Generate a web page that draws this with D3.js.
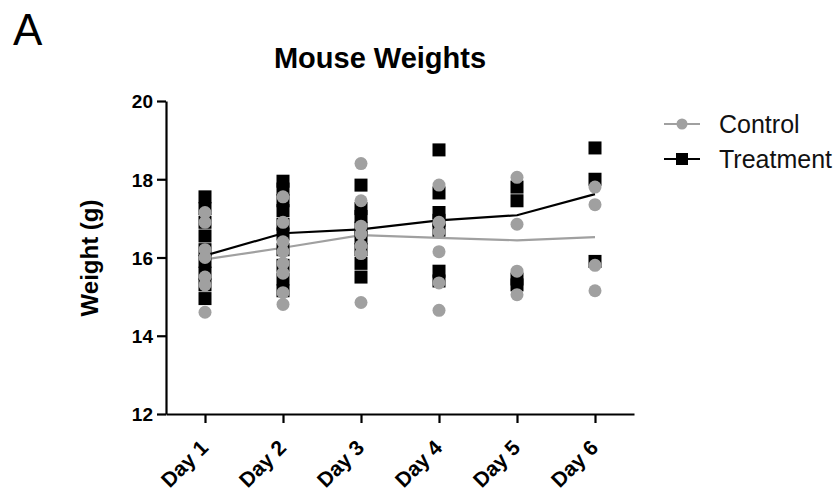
<!DOCTYPE html>
<html>
<head>
<meta charset="utf-8">
<script src="https://cdn.jsdelivr.net/npm/d3@7"></script>
<style>
  html, body { margin: 0; padding: 0; background: #fff; }
  svg { display: block; font-family: "Liberation Sans", Arial, sans-serif; }
</style>
</head>
<body>
<svg id="chart" width="837" height="494"></svg>
<script>
// Days on the x axis
const days = ["Day 1", "Day 2", "Day 3", "Day 4", "Day 5", "Day 6"];

// Individual mouse weights (g), one list per day
const controlWeights = [
  [17.15, 16.9, 16.2, 16.0, 15.5, 15.3, 14.6],
  [17.55, 16.9, 16.4, 16.15, 15.85, 15.6, 15.1, 14.8],
  [18.4, 17.45, 16.8, 16.6, 16.3, 16.1, 14.85],
  [17.85, 16.9, 16.65, 16.15, 15.35, 14.65],
  [18.05, 16.85, 15.65, 15.05],
  [17.8, 17.35, 15.8, 15.15]
];
const treatmentWeights = [
  [17.55, 17.25, 16.9, 16.55, 16.2, 15.9, 15.6, 15.3, 14.95],
  [17.95, 17.75, 17.45, 17.2, 16.85, 16.6, 16.2, 15.8, 15.45, 15.15],
  [17.85, 17.25, 17.05, 16.75, 16.5, 16.2, 15.85, 15.5],
  [18.75, 17.65, 17.15, 16.95, 16.7, 15.65, 15.4],
  [17.8, 17.45, 15.45, 15.3],
  [18.8, 18.0, 15.9]
];

// Group means joined by the lines
const controlMean = [15.95, 16.25, 16.57, 16.5, 16.44, 16.52];
const treatmentMean = [16.05, 16.62, 16.72, 16.95, 17.08, 17.62];

const yTicks = [12, 14, 16, 18, 20];

const grey = "#a0a0a0";
const black = "#000";

const svg = d3.select("#chart");

const x = d3.scalePoint().domain(days).range([166, 634]).padding(0.5);
const y = d3.scaleLinear().domain([12, 20]).range([414, 101]);

// Panel letter and title
svg.append("text").attr("x", 13).attr("y", 45)
  .style("font-size", "44px").text("A");
svg.append("text").attr("x", 380).attr("y", 68).attr("text-anchor", "middle")
  .style("font-size", "29px").style("font-weight", "bold").text("Mouse Weights");

// Axes
const yAxis = svg.append("g").attr("transform", "translate(166,0)")
  .call(d3.axisLeft(y).tickValues(yTicks).tickSize(9).tickSizeOuter(0).tickPadding(4));
const xAxis = svg.append("g").attr("transform", "translate(0,414)")
  .call(d3.axisBottom(x).tickSize(9).tickSizeOuter(0));

[yAxis, xAxis].forEach(g => {
  g.selectAll("path, line").attr("stroke", black).attr("stroke-width", 2.2);
});
yAxis.selectAll("text")
  .style("font-size", "19px").style("font-weight", "bold").attr("fill", black)
  .attr("dy", "0.36em");
xAxis.selectAll("text")
  .style("font-size", "21px").style("font-weight", "bold").attr("fill", black)
  .attr("text-anchor", "end").attr("x", 0).attr("y", 0).attr("dy", 0)
  .attr("transform", "translate(4,35) rotate(-45)");

// Y axis title
svg.append("text")
  .attr("transform", "translate(98,258) rotate(-90)")
  .attr("text-anchor", "middle")
  .style("font-size", "24px").style("font-weight", "bold")
  .text("Weight (g)");

// Mean lines
const line = d3.line().x((d, i) => x(days[i])).y(d => y(d));
svg.append("path").datum(treatmentMean).attr("d", line)
  .attr("fill", "none").attr("stroke", black).attr("stroke-width", 2.2);
svg.append("path").datum(controlMean).attr("d", line)
  .attr("fill", "none").attr("stroke", grey).attr("stroke-width", 2.2);

// Treatment points (squares)
const sq = 13;
const tPts = treatmentWeights.flatMap((vals, i) => vals.map(v => ({ day: days[i], v })));
svg.append("g").selectAll("rect").data(tPts).join("rect")
  .attr("x", d => x(d.day) - sq / 2).attr("y", d => y(d.v) - sq / 2)
  .attr("width", sq).attr("height", sq).attr("fill", black);

// Control points (circles)
const cPts = controlWeights.flatMap((vals, i) => vals.map(v => ({ day: days[i], v })));
svg.append("g").selectAll("circle").data(cPts).join("circle")
  .attr("cx", d => x(d.day)).attr("cy", d => y(d.v)).attr("r", 6.5)
  .attr("fill", grey);

// Legend
const legend = [
  { name: "Control", color: grey, shape: "circle", y: 124 },
  { name: "Treatment", color: black, shape: "square", y: 159 }
];
const lg = svg.append("g").selectAll("g").data(legend).join("g");
lg.append("line").attr("x1", 664).attr("x2", 700)
  .attr("y1", d => d.y).attr("y2", d => d.y)
  .attr("stroke", d => d.color).attr("stroke-width", 2.2);
lg.filter(d => d.shape === "circle").append("circle")
  .attr("cx", 682).attr("cy", d => d.y).attr("r", 5.5).attr("fill", d => d.color);
lg.filter(d => d.shape === "square").append("rect")
  .attr("x", 676).attr("y", d => d.y - 6).attr("width", 12).attr("height", 12)
  .attr("fill", d => d.color);
lg.append("text").attr("x", 719).attr("y", d => d.y + 8.5)
  .style("font-size", "25px").attr("fill", "#111").text(d => d.name);
</script>
</body>
</html>
